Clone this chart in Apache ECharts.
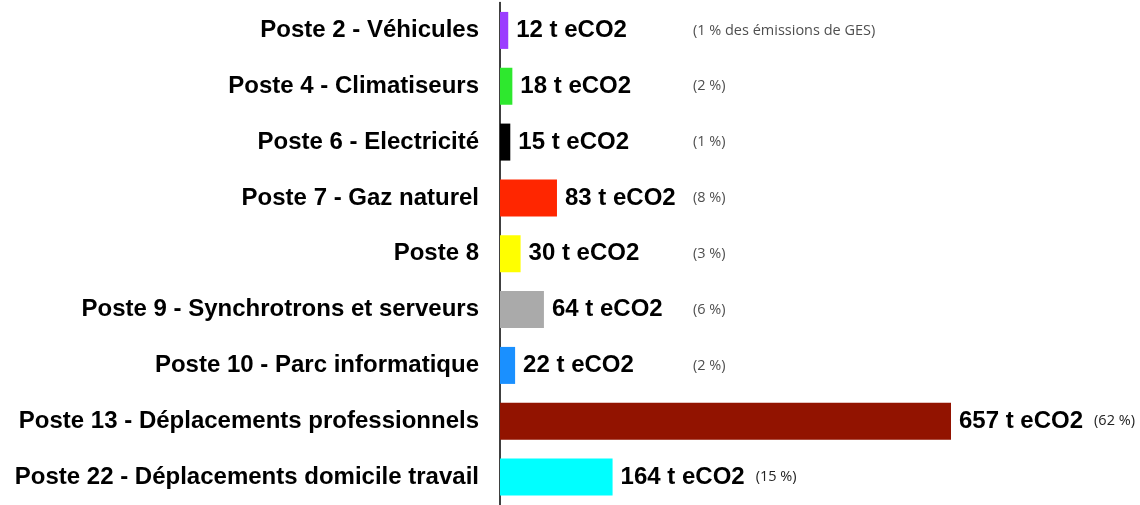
<!DOCTYPE html>
<html>
<head>
<meta charset="utf-8">
<script src="https://cdn.jsdelivr.net/npm/echarts@6/dist/echarts.min.js"></script>
<style>
html,body{margin:0;padding:0;background:#fff;}
#chart{width:1140px;height:505px;}
</style>
</head>
<body>
<div id="chart"></div>
<script>
const categories = [
  'Poste 2 - Véhicules',
  'Poste 4 - Climatiseurs',
  'Poste 6 - Electricité',
  'Poste 7 - Gaz naturel',
  'Poste 8',
  'Poste 9 - Synchrotrons et serveurs',
  'Poste 10 - Parc informatique',
  'Poste 13 - Déplacements professionnels',
  'Poste 22 - Déplacements domicile travail'
];
const values = [12, 18, 15, 83, 30, 64, 22, 657, 164];
const percents = ['(1 % des émissions de GES)', '(2 %)', '(1 %)', '(8 %)', '(3 %)', '(6 %)', '(2 %)', '(62 %)', '(15 %)'];
const colors = ['#9B3DFF', '#2EE82E', '#000000', '#FF2600', '#FFFF00', '#AAAAAA', '#1A90FF', '#921300', '#00FFFF'];
// rows whose percentage follows the value label directly
const inlinePct = [false, false, false, false, false, false, false, true, true];
const unit = ' t eCO2';
const pctColumnValue = 281; // fixed column of percentage notes (axis units)

const chart = echarts.init(document.getElementById('chart'), null, {renderer: 'canvas'});

const barData = values.map((v, i) => ({
  value: v,
  itemStyle: {color: colors[i]}
}));

const pctData = [];
values.forEach((v, i) => {
  if (!inlinePct[i]) pctData.push({value: [pctColumnValue, i], pct: percents[i]});
});

const option = {
  animation: false,
  backgroundColor: '#fff',
  grid: {left: 500, right: 1.6, top: 2.5, bottom: -1, containLabel: false},
  xAxis: {
    type: 'value', min: 0, max: 930, show: false
  },
  yAxis: {
    type: 'category',
    data: categories,
    inverse: true,
    axisLine: {show: true, lineStyle: {color: '#000', width: 1.5}},
    axisTick: {show: false},
    splitLine: {show: false},
    axisLabel: {
      color: '#000',
      fontFamily: 'Liberation Sans',
      fontWeight: 'bold',
      fontSize: 24,
      margin: 21
    }
  },
  series: [
    {
      type: 'bar',
      data: barData,
      barWidth: 37,
      label: {
        show: true,
        position: 'right',
        distance: 8,
        formatter: function (p) {
          const i = p.dataIndex;
          let s = '{v|' + values[i] + unit + '}';
          if (inlinePct[i]) s += '{p|' + percents[i] + '}';
          return s;
        },
        rich: {
          v: {color: '#000', fontFamily: 'Liberation Sans', fontWeight: 'bold', fontSize: 24},
          p: {color: '#222', fontFamily: 'Open Sans', fontSize: 14.5, padding: [0, 0, 0, 11]}
        }
      }
    },
    {
      type: 'scatter',
      data: pctData,
      symbolSize: 0,
      silent: true,
      label: {
        show: true,
        position: 'right',
        distance: 0,
        color: '#222',
        fontFamily: 'Open Sans',
        fontSize: 14.5,
        formatter: function (p) { return p.data.pct; }
      }
    }
  ]
};
chart.setOption(option);
</script>
</body>
</html>
